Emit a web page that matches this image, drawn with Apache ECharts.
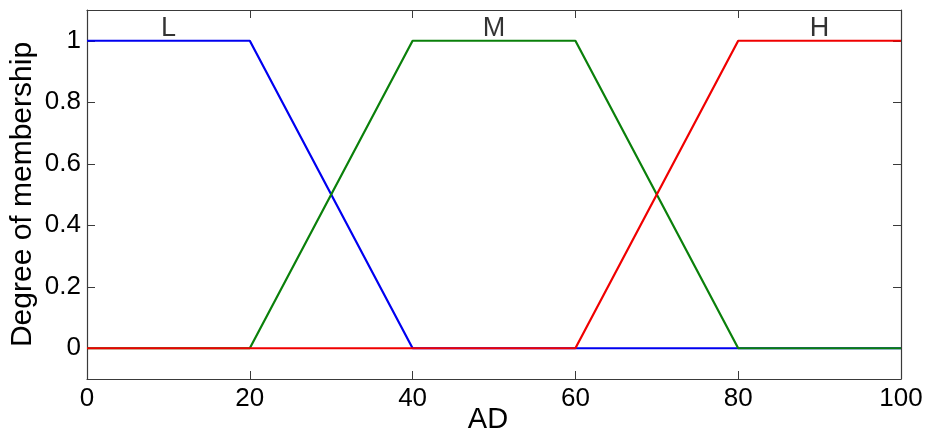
<!DOCTYPE html>
<html>
<head>
<meta charset="utf-8">
<script src="https://cdn.jsdelivr.net/npm/echarts@6/dist/echarts.min.js"></script>
<style>
  html, body { margin: 0; padding: 0; background: #fff; }
  #chart { width: 928px; height: 433px; }
</style>
</head>
<body>
<div id="chart"></div>
<script>
// membership functions over AD, as [x, degree] breakpoints
const lowPts = [[0, 1], [20, 1], [40, 0], [100, 0]]
const midPts = [[0, 0], [20, 0], [40, 1], [60, 1], [80, 0], [100, 0]]
const highPts = [[0, 0], [60, 0], [80, 1], [100, 1]]

const setNames = ['L', 'M', 'H']
const setLabelPos = [[10, 1.04], [50, 1.04], [90, 1.04]]

const yTickLabels = [0, 0.2, 0.4, 0.6, 0.8, 1]

const font = '"Liberation Sans", Arial, sans-serif'
const axisColor = '#3a3a3a'

const chart = echarts.init(document.getElementById('chart'))

const baseAxis = {
  axisLine: { show: true, onZero: false, lineStyle: { color: axisColor, width: 1.2 } },
  axisTick: { show: true, inside: true, length: 8, lineStyle: { color: axisColor } },
  splitLine: { show: false },
}

const showYLabel = (v) => {
  const hit = yTickLabels.find((t) => Math.abs(t - v) < 1e-6)
  return hit === undefined ? '' : String(hit)
}

chart.setOption({
  backgroundColor: '#fff',
  animation: false,
  textStyle: { fontFamily: font },
  grid: { left: 87, right: 27, top: 10, bottom: 54, outerBoundsMode: 'none' },
  xAxis: [
    {
      ...baseAxis,
      type: 'value',
      min: 0,
      max: 100,
      interval: 20,
      name: 'AD',
      nameLocation: 'middle',
      nameGap: 26,
      nameMoveOverlap: false,
      nameTextStyle: { color: '#000', fontSize: 29, fontFamily: font, padding: [0, 12, 0, 0] },
      axisLabel: { color: '#000', fontSize: 26, fontFamily: font, margin: 7 },
    },
    {
      ...baseAxis,
      type: 'value',
      position: 'top',
      min: 0,
      max: 100,
      interval: 20,
      axisLabel: { show: false },
    },
  ],
  yAxis: [
    {
      ...baseAxis,
      type: 'value',
      min: -0.1,
      max: 1.1,
      splitNumber: 6,
      name: 'Degree of membership',
      nameLocation: 'middle',
      nameGap: 49,
      nameMoveOverlap: false,
      nameTextStyle: { color: '#000', fontSize: 30, fontFamily: font },
      axisLabel: {
        color: '#000',
        fontSize: 26,
        fontFamily: font,
        margin: 6,
        showMinLabel: false,
        showMaxLabel: false,
        formatter: showYLabel,
      },
    },
    {
      ...baseAxis,
      type: 'value',
      position: 'right',
      min: -0.1,
      max: 1.1,
      splitNumber: 6,
      axisLabel: { show: false },
    },
  ],
  series: [
    {
      name: 'L',
      type: 'line',
      data: lowPts,
      symbol: 'none',
      lineStyle: { color: '#0000f0', width: 2.2 },
    },
    {
      name: 'M',
      type: 'line',
      data: midPts,
      symbol: 'none',
      lineStyle: { color: '#0a800a', width: 2.2 },
    },
    {
      name: 'H',
      type: 'line',
      data: highPts,
      symbol: 'none',
      lineStyle: { color: '#f00000', width: 2.2 },
    },
    {
      name: 'labels',
      type: 'scatter',
      symbolSize: 0,
      silent: true,
      data: setNames.map((n, i) => ({ value: setLabelPos[i], name: n })),
      label: {
        show: true,
        position: 'inside',
        formatter: (p) => p.name,
        color: '#000',
        fontSize: 27,
        fontFamily: font,
      },
    },
  ],
})
</script>
</body>
</html>
